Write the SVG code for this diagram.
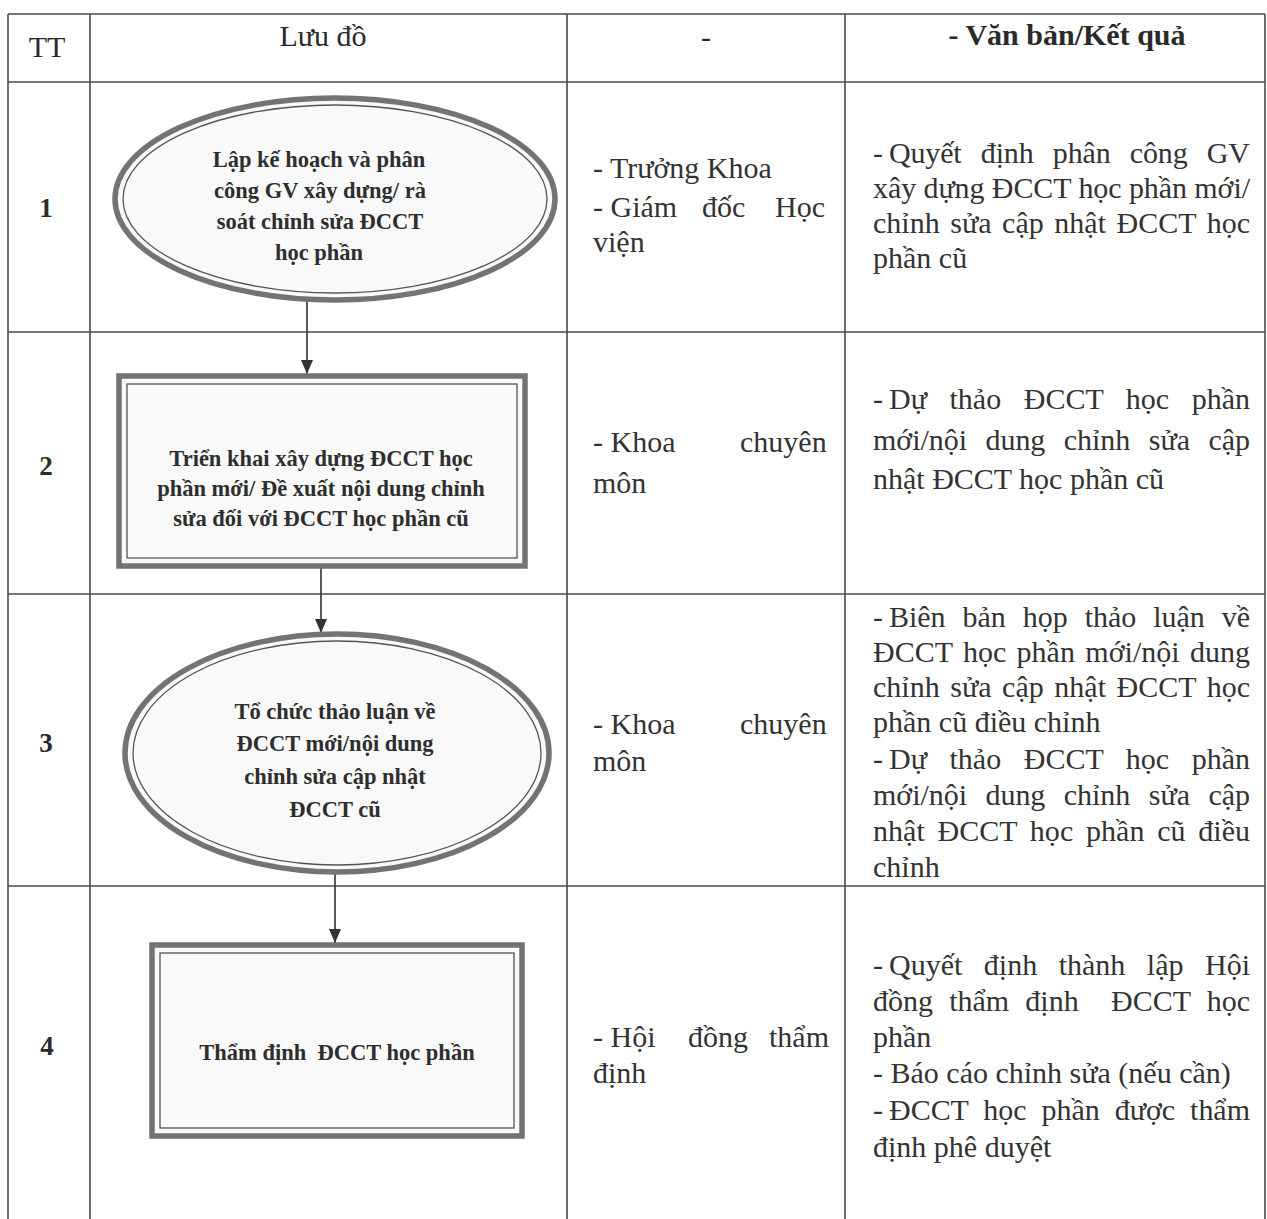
<svg xmlns="http://www.w3.org/2000/svg" width="1267" height="1219" viewBox="0 0 1267 1219">
<style>
.grid{stroke:#4a4a4a;stroke-width:1.6;fill:none}
.hd{font-family:"Liberation Serif","Times New Roman",serif;font-size:30px;fill:#2a2a2a}
.tx{font-family:"Liberation Serif","Times New Roman",serif;font-size:30px;fill:#333}
.num{font-family:"Liberation Serif","Times New Roman",serif;font-size:27px;font-weight:bold;fill:#2a2a2a;text-anchor:middle}
.nt{font-family:"Liberation Serif","Times New Roman",serif;font-size:22.5px;font-weight:bold;fill:#2e2e2e;text-anchor:middle}
.outer{fill:#f9f9f9;stroke:#737373;stroke-width:5.5}
.inner{fill:none;stroke:#555;stroke-width:1.3}
.conn{stroke:#333;stroke-width:1.6;fill:none}
.ah{fill:#333}
</style>
<rect width="1267" height="1219" fill="#ffffff"/>
<g id="table">
<line class="grid" x1="8" y1="14" x2="1265" y2="14"/>
<line class="grid" x1="8" y1="82" x2="1265" y2="82"/>
<line class="grid" x1="8" y1="332" x2="1265" y2="332"/>
<line class="grid" x1="8" y1="594" x2="1265" y2="594"/>
<line class="grid" x1="8" y1="886" x2="1265" y2="886"/>
<line class="grid" x1="8" y1="14" x2="8" y2="1219"/>
<line class="grid" x1="90" y1="14" x2="90" y2="1219"/>
<line class="grid" x1="567" y1="14" x2="567" y2="1219"/>
<line class="grid" x1="845" y1="14" x2="845" y2="1219"/>
<line class="grid" x1="1265" y1="14" x2="1265" y2="1219"/>
</g>
<g id="header">
<text class="hd" x="47" y="57" text-anchor="middle">TT</text>
<text class="hd" x="323" y="46" text-anchor="middle">Lưu đồ</text>
<text class="hd" x="706" y="47" text-anchor="middle">-</text>
<text class="hd" x="1067" y="45" text-anchor="middle" font-weight="bold" font-size="29">- Văn bản/Kết quả</text>
</g>
<g id="numbers">
<text class="num" x="46" y="217">1</text>
<text class="num" x="46" y="475">2</text>
<text class="num" x="46" y="752">3</text>
<text class="num" x="47" y="1055">4</text>
</g>
<g id="connectors">
<line class="conn" x1="307" y1="301" x2="307" y2="374"/>
<path class="ah" d="M301,360 L313,360 L307,374 Z"/>
<line class="conn" x1="321" y1="568" x2="321" y2="633"/>
<path class="ah" d="M315,619 L327,619 L321,633 Z"/>
<line class="conn" x1="335" y1="873" x2="335" y2="943"/>
<path class="ah" d="M329,929 L341,929 L335,943 Z"/>
</g>
<g id="node1">
<ellipse class="outer" cx="335" cy="199" rx="220" ry="101"/>
<ellipse class="inner" cx="335" cy="199" rx="212" ry="94"/>
<text class="nt" x="319" y="167">Lập kế hoạch và phân</text>
<text class="nt" x="320" y="198">công GV xây dựng/ rà</text>
<text class="nt" x="320" y="229">soát chỉnh sửa ĐCCT</text>
<text class="nt" x="319" y="260">học phần</text>
</g>
<g id="node2">
<rect class="outer" x="119" y="376" width="406" height="190"/>
<rect class="inner" x="127" y="384" width="390" height="174"/>
<text class="nt" x="321" y="466">Triển khai xây dựng ĐCCT học</text>
<text class="nt" x="321" y="496">phần mới/ Đề xuất nội dung chỉnh</text>
<text class="nt" x="321" y="526">sửa đối với ĐCCT học phần cũ</text>
</g>
<g id="node3">
<ellipse class="outer" cx="337" cy="753" rx="212" ry="119"/>
<ellipse class="inner" cx="337" cy="753" rx="204" ry="112"/>
<text class="nt" x="335" y="719">Tổ chức thảo luận về</text>
<text class="nt" x="335" y="751">ĐCCT mới/nội dung</text>
<text class="nt" x="335" y="784">chỉnh sửa cập nhật</text>
<text class="nt" x="335" y="817">ĐCCT cũ</text>
</g>
<g id="node4">
<rect class="outer" x="152" y="945" width="370" height="191"/>
<rect class="inner" x="160" y="953" width="354" height="175"/>
<text class="nt" x="337" y="1060" xml:space="preserve">Thẩm định  ĐCCT học phần</text>
</g>
<g id="col3">
<text class="tx" x="593" y="178">- Trưởng Khoa</text>
<text class="tx" x="593" y="217">- Giám <tspan x="702">đốc</tspan> <tspan x="775">Học</tspan></text>
<text class="tx" x="593" y="252">viện</text>
<text class="tx" x="593" y="452">- Khoa <tspan x="740">chuyên</tspan></text>
<text class="tx" x="593" y="493">môn</text>
<text class="tx" x="593" y="734">- Khoa <tspan x="740">chuyên</tspan></text>
<text class="tx" x="593" y="771">môn</text>
<text class="tx" x="593" y="1047">- Hội <tspan x="688">đồng</tspan> <tspan x="769">thẩm</tspan></text>
<text class="tx" x="593" y="1083">định</text>
</g>
<g id="col4">
<text class="tx" x="873" y="163">- <tspan x="889" word-spacing="12" textLength="361" lengthAdjust="spacing">Quyết định phân công GV</tspan></text>
<text class="tx" x="873" y="198" textLength="377" lengthAdjust="spacing">xây dựng ĐCCT học phần mới/</text>
<text class="tx" x="873" y="233" word-spacing="3" textLength="377" lengthAdjust="spacing">chỉnh sửa cập nhật ĐCCT học</text>
<text class="tx" x="873" y="268">phần cũ</text>

<text class="tx" x="873" y="409">- <tspan x="889" word-spacing="15" textLength="361" lengthAdjust="spacing">Dự thảo ĐCCT học phần</tspan></text>
<text class="tx" x="873" y="450" word-spacing="11" textLength="377" lengthAdjust="spacing">mới/nội dung chỉnh sửa cập</text>
<text class="tx" x="873" y="489">nhật ĐCCT học phần cũ</text>

<text class="tx" x="873" y="627">- <tspan x="889" word-spacing="9.5" textLength="361" lengthAdjust="spacing">Biên bản họp thảo luận về</tspan></text>
<text class="tx" x="873" y="662" word-spacing="2.8" textLength="377" lengthAdjust="spacing">ĐCCT học phần mới/nội dung</text>
<text class="tx" x="873" y="697" word-spacing="3" textLength="377" lengthAdjust="spacing">chỉnh sửa cập nhật ĐCCT học</text>
<text class="tx" x="873" y="732">phần cũ điều chỉnh</text>
<text class="tx" x="873" y="769">- <tspan x="889" word-spacing="15" textLength="361" lengthAdjust="spacing">Dự thảo ĐCCT học phần</tspan></text>
<text class="tx" x="873" y="805" word-spacing="11" textLength="377" lengthAdjust="spacing">mới/nội dung chỉnh sửa cập</text>
<text class="tx" x="873" y="841" word-spacing="5.2" textLength="377" lengthAdjust="spacing">nhật ĐCCT học phần cũ điều</text>
<text class="tx" x="873" y="877">chỉnh</text>

<text class="tx" x="873" y="975">- <tspan x="889" word-spacing="14" textLength="361" lengthAdjust="spacing">Quyết định thành lập Hội</tspan></text>
<text class="tx" x="873" y="1011" xml:space="preserve" word-spacing="8.6" textLength="377" lengthAdjust="spacing">đồng thẩm định  ĐCCT học</text>
<text class="tx" x="873" y="1047">phần</text>
<text class="tx" x="873" y="1083">- Báo cáo chỉnh sửa (nếu cần)</text>
<text class="tx" x="873" y="1120">- <tspan x="889" word-spacing="7.5" textLength="361" lengthAdjust="spacing">ĐCCT học phần được thẩm</tspan></text>
<text class="tx" x="873" y="1157">định phê duyệt</text>
</g>
</svg>
